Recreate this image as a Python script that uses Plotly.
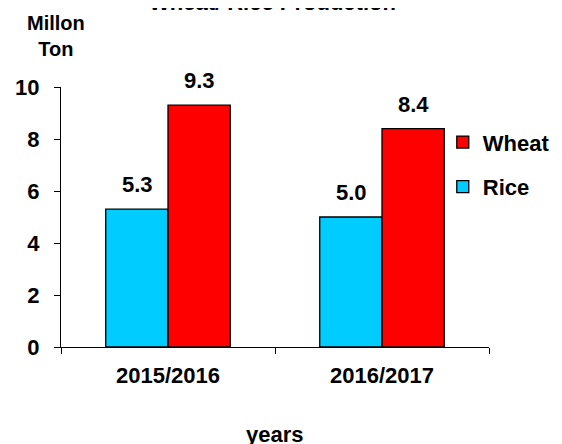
import plotly.graph_objects as go

categories = ["2015/2016", "2016/2017"]
rice = [5.3, 5.0]
wheat = [9.3, 8.4]
y_ticks = [0, 2, 4, 6, 8, 10]

FONT = "Arial, 'Liberation Sans', sans-serif"
FS = 22

fig = go.Figure()
fig.add_trace(go.Bar(
    x=categories, y=rice, name="Rice",
    marker=dict(color="#00CCFF", line=dict(color="black", width=1.3)),
    legendrank=2, legendgroup="rice",
))
fig.add_trace(go.Bar(
    x=categories, y=wheat, name="Wheat",
    marker=dict(color="#FF0000", line=dict(color="black", width=1.3)),
    legendrank=1, legendgroup="wheat",
))

annotations = []
for series, shift in ((rice, -31), (wheat, 31)):
    for cat, val in zip(categories, series):
        annotations.append(dict(
            x=cat, y=val, xref="x", yref="y", text=f"<b>{val:.1f}</b>",
            xanchor="center", yanchor="bottom", xshift=shift, yshift=10,
            showarrow=False, font=dict(size=FS, family=FONT, color="black"),
        ))

annotations += [
    dict(text="<b>Wheat/ Rice Production</b>", xref="paper", yref="paper",
         x=0.495, y=1.0, xanchor="center", yanchor="bottom", yshift=70,
         font=dict(size=FS, family=FONT), showarrow=False),
    dict(text="<b>Millon<br>Ton</b>", xref="paper", yref="paper",
         x=0, y=1, xanchor="center", yanchor="bottom", yshift=25, xshift=-5,
         align="center", font=dict(size=20, family=FONT), showarrow=False),
    dict(text="<b>years</b>", xref="paper", yref="paper",
         x=0.5, y=0, xanchor="center", yanchor="middle", yshift=-87,
         font=dict(size=FS, family=FONT), showarrow=False),
]

fig.update_layout(
    width=554, height=436,
    margin=dict(l=53, r=73, t=79, b=97, autoexpand=False),
    paper_bgcolor="white", plot_bgcolor="white",
    font=dict(family=FONT, color="black", size=FS),
    barmode="group", bargap=0.418, bargroupgap=0,
    showlegend=True,
    legend=dict(x=0.892, y=0.868, xanchor="left", yanchor="top",
                traceorder="grouped", tracegroupgap=13,
                font=dict(size=FS, family=FONT, color="black", weight="bold"),
                bgcolor="rgba(0,0,0,0)"),
    xaxis=dict(
        type="category", showline=True, linecolor="black", linewidth=1.3,
        ticks="outside", tickson="boundaries", ticklen=6, tickcolor="black",
        tickfont=dict(size=FS, family=FONT, weight="bold"), ticklabelstandoff=8,
        showgrid=False, zeroline=False,
    ),
    yaxis=dict(
        range=[0, 10], tickvals=y_ticks, showline=True, linecolor="black", linewidth=1.3,
        ticks="outside", ticklen=6, tickcolor="black",
        tickfont=dict(size=FS, family=FONT, weight="bold"), ticklabelstandoff=10,
        showgrid=False, zeroline=False,
    ),
    annotations=annotations,
)

fig.write_html("out.html")
